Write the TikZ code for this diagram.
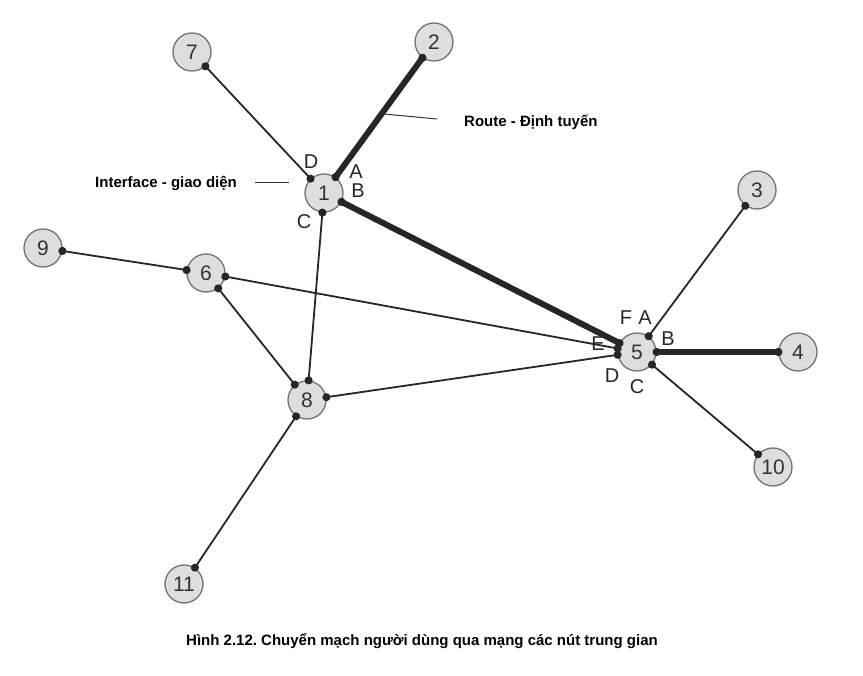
\documentclass[tikz,border=0pt]{standalone}
\usepackage{fontspec}
\setmainfont{Liberation Sans}
\usetikzlibrary{arrows.meta}
\frenchspacing

\begin{document}
\begin{tikzpicture}[x=1pt, y=-1pt,
    router/.style={circle, draw=black!55, fill=black!13, line width=1.3pt, minimum size=38pt, inner sep=0pt, text=black!80, font=\fontsize{21}{21}\selectfont},
    link/.style={line width=1.8pt, black!85, {Circle[length=8pt]}-{Circle[length=8pt]}, shorten <=-4pt, shorten >=-4pt},
    route/.style={link, line width=6pt},
    port/.style={font=\fontsize{20}{20}\selectfont, inner sep=0pt, text=black!85},
    note/.style={font=\bfseries\fontsize{15}{15}\selectfont, anchor=west, inner sep=0pt}]
    \useasboundingbox (0,0) rectangle (863,676);

    % Nodes
    \node[router] (n1) at (324,193) {1};
    \node[router] (n2) at (434,42) {2};
    \node[router] (n3) at (757,190) {3};
    \node[router] (n4) at (798,352) {4};
    \node[router] (n5) at (637,352) {5};
    \node[router] (n6) at (206,273) {6};
    \node[router] (n7) at (192,52) {7};
    \node[router] (n8) at (307,400) {8};
    \node[router] (n9) at (43,248) {9};
    \node[router] (n10) at (773,467) {10};
    \node[router] (n11) at (184,584) {11};

    % Thin links
    \draw[link] (n7) -- (n1);
    \draw[link] (n1) -- (n8);
    \draw[link] (n9) -- (n6);
    \draw[link] (n6) -- (n5);
    \draw[link] (n6) -- (n8);
    \draw[link] (n8) -- (n5);
    \draw[link] (n3) -- (n5);
    \draw[link] (n10) -- (n5);
    \draw[link] (n8) -- (n11);

    % Thick links (route)
    \draw[route] (n2) -- (n1);
    \draw[route] (n1) -- (n5);
    \draw[route] (n4) -- (n5);

    % Interface letters
    \node[port] (p1d) at (311,162) {D};
    \node[port] (p1a) at (356,172) {A};
    \node[port] (p1b) at (358,191) {B};
    \node[port] (p1c) at (304,222) {C};
    \node[port] (p5f) at (626,318) {F};
    \node[port] (p5a) at (645,318) {A};
    \node[port] (p5b) at (668,339) {B};
    \node[port] (p5e) at (598,344) {E};
    \node[port] (p5d) at (612,376) {D};
    \node[port] (p5c) at (637,387) {C};

    % Notes
    \node[note] (route) at (464,122) {Route - Định tuyến};
    \coordinate (routeA) at (384,114);
    \coordinate (routeB) at (437,119);
    \draw[line width=1pt, black!80] (routeA) -- (routeB);
    \node[note] (iface) at (95,183) {Interface - giao diện};
    \coordinate (ifaceA) at (255,183);
    \coordinate (ifaceB) at (289,183);
    \draw[line width=1pt, black!80] (ifaceA) -- (ifaceB);

    % Caption
    \node[font=\bfseries\fontsize{15}{15}\selectfont] (caption) at (422,641) {Hình 2.12. Chuyển mạch người dùng qua mạng các nút trung gian};
\end{tikzpicture}
\end{document}
